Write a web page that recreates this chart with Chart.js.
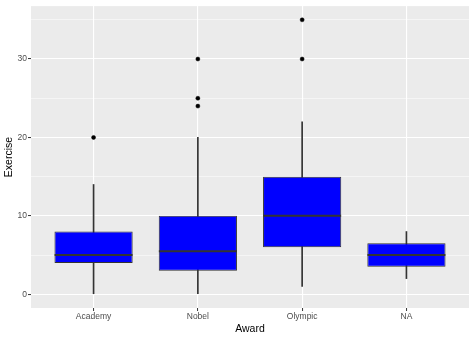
<!DOCTYPE html>
<html>
<head>
<meta charset="utf-8">
<script src="https://cdn.jsdelivr.net/npm/chart.js@4/dist/chart.umd.min.js"></script>
<style>
    html, body { margin: 0; padding: 0; background: #fff; }
    #box-chart { display: block; }
</style>
</head>
<body>
<canvas id="box-chart" width="474" height="338"></canvas>
<script>
// 箱线图数据
const awards = ['Academy', 'Nobel', 'Olympic', 'NA'];
const whiskerLow = [0, 0, 1, 2];
const lowerQuartile = [4, 3, 6, 3.5];
const medians = [5, 5.5, 10, 5];
const upperQuartile = [8, 10, 15, 6.5];
const whiskerHigh = [14, 20, 22, 8];
const outliers = [[20], [24, 25, 30], [30, 35], []];

// 坐标轴刻度
const yTicks = [0, 5, 10, 15, 20, 25, 30, 35];
const yRange = [-1.75, 36.75];
const xRange = [0.4, 4.6];

const FONT = "'Liberation Sans', Arial, sans-serif";
const DARK = '#333333';

// 灰色面板背景
const panelBackground = {
    id: 'panelBackground',
    beforeDraw(chart) {
        const { ctx, chartArea } = chart;
        ctx.save();
        ctx.fillStyle = '#EBEBEB';
        ctx.fillRect(chartArea.left, chartArea.top, chartArea.right - chartArea.left, chartArea.bottom - chartArea.top);
        ctx.restore();
    }
};

function buildDatasets() {
    const pos = awards.map((a, i) => i + 1);
    const outlierPoints = [];
    outliers.forEach((list, i) => {
        list.forEach(v => outlierPoints.push({ x: pos[i], y: v }));
    });

    return [
        {
            // 中位数
            type: 'line',
            order: 0,
            showLine: false,
            clip: false,
            data: pos.map((x, i) => ({ x, y: medians[i] })),
            pointStyle: 'line',
            pointRadius: 39,
            pointHoverRadius: 39,
            pointBorderWidth: 2,
            pointBorderColor: DARK
        },
        {
            // 离群点
            type: 'line',
            order: 0,
            showLine: false,
            data: outlierPoints,
            pointRadius: 2,
            pointHoverRadius: 2,
            pointBackgroundColor: '#000',
            pointBorderColor: '#000',
            pointBorderWidth: 0.5
        },
        {
            // 箱体
            type: 'bar',
            order: 1,
            grouped: false,
            data: pos.map((x, i) => ({ x, y: [lowerQuartile[i], upperQuartile[i]] })),
            backgroundColor: '#0000FF',
            borderColor: DARK,
            borderWidth: 1,
            borderSkipped: false,
            categoryPercentage: 1,
            barPercentage: 0.75
        },
        {
            // 须线
            type: 'bar',
            order: 2,
            grouped: false,
            data: pos.map((x, i) => ({ x, y: [whiskerLow[i], whiskerHigh[i]] })),
            backgroundColor: DARK,
            borderWidth: 0,
            barThickness: 1
        }
    ];
}

new Chart(document.getElementById('box-chart'), {
    type: 'bar',
    data: { datasets: buildDatasets() },
    options: {
        responsive: false,
        animation: false,
        layout: { autoPadding: false, padding: { top: 5, right: 5, left: 0, bottom: 0 } },
        plugins: {
            legend: { display: false },
            tooltip: { enabled: false }
        },
        scales: {
            x: {
                type: 'linear',
                min: xRange[0],
                max: xRange[1],
                offset: false,
                afterBuildTicks(scale) {
                    scale.ticks = awards.map((a, i) => ({ value: i + 1 }));
                },
                afterFit(scale) { scale.height = 30; },
                grid: {
                    offset: false,
                    color: '#FFFFFF',
                    lineWidth: 1.1,
                    tickLength: 3,
                    tickColor: DARK,
                    tickWidth: 1
                },
                border: { display: false },
                ticks: {
                    padding: 1,
                    color: '#4D4D4D',
                    font: { family: FONT, size: 8.5 },
                    callback: value => awards[value - 1] ?? ''
                },
                title: {
                    display: true,
                    text: 'Award',
                    color: '#000',
                    font: { family: FONT, size: 10.5 },
                    padding: { top: 3, bottom: 3 }
                }
            },
            y: {
                type: 'linear',
                min: yRange[0],
                max: yRange[1],
                afterBuildTicks(scale) {
                    scale.ticks = yTicks.map(v => ({ value: v }));
                },
                afterFit(scale) { scale.width = 31; },
                grid: {
                    color: '#FFFFFF',
                    lineWidth: ctx => (ctx.tick && ctx.tick.value % 10 === 0 ? 1.1 : 0.5),
                    tickLength: 3,
                    tickColor: ctx => (ctx.tick && ctx.tick.value % 10 === 0 ? DARK : 'rgba(0,0,0,0)'),
                    tickWidth: 1
                },
                border: { display: false },
                ticks: {
                    padding: 1,
                    color: '#4D4D4D',
                    font: { family: FONT, size: 8.5 },
                    callback: value => (value % 10 === 0 ? value : '')
                },
                title: {
                    display: true,
                    text: 'Exercise',
                    color: '#000',
                    font: { family: FONT, size: 10.5 },
                    padding: { top: 3, bottom: 0 }
                }
            }
        }
    },
    plugins: [panelBackground]
});
</script>
</body>
</html>
